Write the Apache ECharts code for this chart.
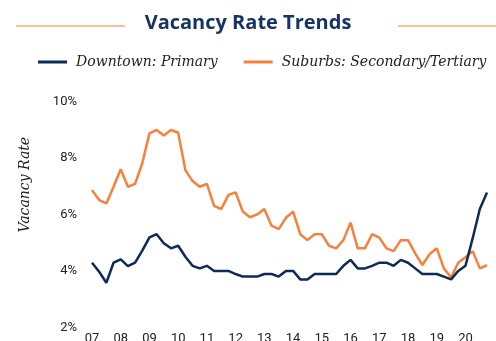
<!DOCTYPE html>
<html>
<head>
<meta charset="utf-8">
<title>Vacancy Rate Trends</title>
<script src="https://cdn.jsdelivr.net/npm/echarts@6/dist/echarts.min.js"></script>
<style>
  html, body { margin: 0; padding: 0; background: #ffffff; }
  #chart { width: 496px; height: 341px; }
</style>
</head>
<body>
<div id="chart"></div>
<script>
// Quarterly periods, 2007 Q1 through 2020 Q4
const years = ['07','08','09','10','11','12','13','14','15','16','17','18','19','20'];
const quarters = [];
years.forEach(y => { for (let q = 1; q <= 4; q++) quarters.push(y + ' Q' + q); });

// Vacancy rate, % (one value per quarter)
const downtownPrimary = [
  4.30, 3.98, 3.59, 4.30, 4.42, 4.18, 4.30, 4.73,
  5.20, 5.31, 4.99, 4.81, 4.90, 4.51, 4.19, 4.10,
  4.19, 4.01, 4.01, 4.01, 3.90, 3.81, 3.81, 3.81,
  3.90, 3.90, 3.81, 4.01, 4.01, 3.71, 3.71, 3.90,
  3.90, 3.90, 3.90, 4.19, 4.40, 4.10, 4.10, 4.19,
  4.30, 4.30, 4.19, 4.40, 4.30, 4.10, 3.90, 3.90,
  3.90, 3.81, 3.71, 4.01, 4.19, 5.16, 6.20, 6.79
];
const suburbsSecondaryTertiary = [
  6.87, 6.52, 6.40, 6.99, 7.61, 6.99, 7.09, 7.82,
  8.88, 9.00, 8.80, 9.00, 8.90, 7.58, 7.19, 6.99,
  7.09, 6.31, 6.20, 6.70, 6.79, 6.11, 5.91, 6.01,
  6.20, 5.61, 5.49, 5.89, 6.11, 5.31, 5.10, 5.31,
  5.31, 4.90, 4.81, 5.10, 5.72, 4.81, 4.81, 5.31,
  5.19, 4.81, 4.71, 5.10, 5.10, 4.63, 4.22, 4.60,
  4.81, 4.10, 3.78, 4.30, 4.49, 4.71, 4.10, 4.21
];

const yTicks = { min: 2, max: 10, step: 2 };

const NAVY = '#0c2b57';
const ORANGE = '#f7803a';
const TITLE_NAVY = '#163462';
const serifItalic = { fontFamily: 'DejaVu Serif', fontStyle: 'italic' };

const chart = echarts.init(document.getElementById('chart'), null, { renderer: 'canvas' });

chart.setOption({
  animation: false,
  backgroundColor: '#ffffff',
  title: {
    text: 'Vacancy Rate Trends',
    left: 'center',
    top: 13,
    padding: 0,
    textStyle: { color: TITLE_NAVY, fontFamily: 'Open Sans', fontWeight: 'bold', fontSize: 20 }
  },
  graphic: [
    { type: 'line', shape: { x1: 16, y1: 26, x2: 125, y2: 26 }, style: { stroke: ORANGE, lineWidth: 1.2 } },
    { type: 'line', shape: { x1: 398, y1: 26, x2: 496, y2: 26 }, style: { stroke: ORANGE, lineWidth: 1.2 } }
  ],
  legend: {
    top: 55,
    left: 38,
    width: 458,
    padding: 0,
    icon: 'rect',
    itemWidth: 29,
    itemHeight: 3,
    itemGap: 26,
    textStyle: Object.assign({ color: '#222', fontSize: 14, padding: [0, 0, 0, 4] }, serifItalic),
    data: ['Downtown: Primary', 'Suburbs: Secondary/Tertiary']
  },
  grid: { left: 92, right: 9, top: 101.7, bottom: 13.3, containLabel: false, outerBoundsMode: 'none' },
  xAxis: {
    type: 'category',
    data: quarters,
    boundaryGap: false,
    axisLine: { show: false },
    axisTick: { show: false },
    splitLine: { show: false },
    axisLabel: {
      interval: 3,
      margin: 5,
      color: '#222',
      fontFamily: 'Roboto',
      fontSize: 13,
      formatter: v => v.split(' ')[0]
    }
  },
  yAxis: {
    type: 'value',
    min: yTicks.min,
    max: yTicks.max,
    interval: yTicks.step,
    axisLine: { show: false },
    axisTick: { show: false },
    splitLine: { show: false },
    axisLabel: { margin: 15, color: '#222', fontFamily: 'Roboto', fontSize: 13, formatter: '{value}%' },
    name: 'Vacancy Rate',
    nameLocation: 'middle',
    nameRotate: 90,
    nameGap: 60,
    nameTextStyle: Object.assign({ color: '#222', fontSize: 14, padding: [0, 0, 0, 60] }, serifItalic)
  },
  series: [
    {
      name: 'Downtown: Primary',
      type: 'line',
      data: downtownPrimary,
      symbol: 'none',
      color: NAVY,
      lineStyle: { color: NAVY, width: 2.5 },
      z: 3
    },
    {
      name: 'Suburbs: Secondary/Tertiary',
      type: 'line',
      data: suburbsSecondaryTertiary,
      symbol: 'none',
      color: ORANGE,
      lineStyle: { color: ORANGE, width: 2.5 },
      z: 2
    }
  ]
});
</script>
</body>
</html>
